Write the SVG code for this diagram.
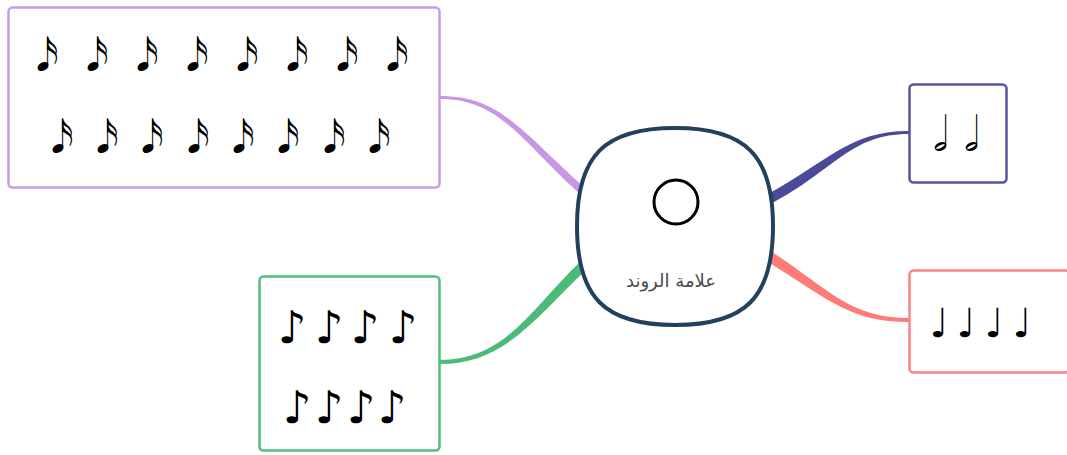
<svg xmlns="http://www.w3.org/2000/svg" width="1067" height="455" viewBox="0 0 1067 455">
<style>
.box{fill:#ffffff;stroke-width:2.5}
.note{font-family:"DejaVu Sans",sans-serif;fill:#000;text-anchor:middle}
.lbl{font-family:"DejaVu Sans",sans-serif;font-size:18px;fill:#4a4a4a;text-anchor:middle}
</style>
<rect width="1067" height="455" fill="#ffffff"/>
<g id="connectors">
<path d="M440,96 C500,96 520,130 583,186 L580,194 C520,140 500,99 440,99 Z" fill="#c897e3"/>
<path d="M440,360 C505,360 530,310 580,262 L586,270 C535,318 505,364 440,364 Z" fill="#4cbb7a"/>
<path d="M909,131 C850,131 830,160 768,194 L772,203 C835,170 850,134 909,134 Z" fill="#4a4a98"/>
<path d="M909,318 C850,318 830,290 772,252 L768,262 C830,300 850,322 909,322 Z" fill="#ff7b77"/>
</g>
<g id="node-sixteenth">
<rect class="box" x="8.5" y="7.5" width="431" height="180" rx="4" stroke="#c99ce6"/>
<g class="note" font-size="45">
<text x="47" y="71">𝅘𝅥𝅯</text><text x="97" y="71">𝅘𝅥𝅯</text><text x="147" y="71">𝅘𝅥𝅯</text><text x="197" y="71">𝅘𝅥𝅯</text><text x="247" y="71">𝅘𝅥𝅯</text><text x="297" y="71">𝅘𝅥𝅯</text><text x="347" y="71">𝅘𝅥𝅯</text><text x="397" y="71">𝅘𝅥𝅯</text>
<text x="62" y="153">𝅘𝅥𝅯</text><text x="107" y="153">𝅘𝅥𝅯</text><text x="152" y="153">𝅘𝅥𝅯</text><text x="198" y="153">𝅘𝅥𝅯</text><text x="243" y="153">𝅘𝅥𝅯</text><text x="288" y="153">𝅘𝅥𝅯</text><text x="334" y="153">𝅘𝅥𝅯</text><text x="379" y="153">𝅘𝅥𝅯</text>
</g>
</g>
<g id="node-eighth">
<rect class="box" x="259.5" y="276.5" width="180" height="174" rx="4" stroke="#52be80"/>
<g class="note" font-size="45">
<text x="292" y="343">♪</text><text x="329" y="343">♪</text><text x="365" y="343">♪</text><text x="403" y="343">♪</text>
<text x="297" y="423">♪</text><text x="329" y="423">♪</text><text x="361" y="423">♪</text><text x="392" y="423">♪</text>
</g>
</g>
<g id="node-half">
<rect class="box" x="909.5" y="84.5" width="97" height="98" rx="4" stroke="#5656a0"/>
<g class="note" font-size="48">
<text x="940" y="151">𝅗𝅥</text><text x="971" y="151">𝅗𝅥</text>
</g>
</g>
<g id="node-quarter">
<rect class="box" x="909.5" y="270.5" width="160" height="102" rx="4" stroke="#fb8585"/>
<g class="note" font-size="40">
<text x="939" y="337">♩</text><text x="966" y="337">♩</text><text x="994" y="337">♩</text><text x="1022" y="337">♩</text>
</g>
</g>
<g id="node-center">
<path d="M675,128 C745,128 773,155 773,226 C773,298 745,325 675,325 C605,325 577,298 577,226 C577,155 605,128 675,128 Z" fill="#ffffff" stroke="#24405e" stroke-width="4"/>
<circle cx="676" cy="202" r="22" fill="none" stroke="#000" stroke-width="3"/>
<text class="lbl" x="671" y="287">علامة الروند</text>
</g>
</svg>
